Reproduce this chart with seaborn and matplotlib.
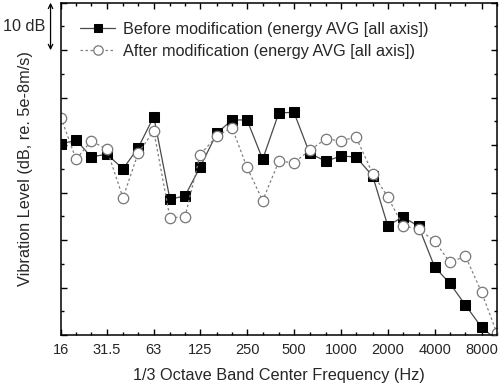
import numpy as np
import pandas as pd
import matplotlib
matplotlib.use("Agg")
import matplotlib.pyplot as plt
import matplotlib.ticker as mticker
import matplotlib.transforms as mtransforms
import seaborn as sns

# 1/3 octave band centres (Hz)
freqs = [16, 20, 25, 31.5, 40, 50, 63, 80, 100, 125, 160, 200, 250, 315, 400,
         500, 630, 800, 1000, 1250, 1600, 2000, 2500, 3150, 4000, 5000, 6300,
         8000, 10000]

# levels in dB (arbitrary offset, y axis has no numbers)
before = [40.2, 41.1, 37.5, 38.1, 35.0, 39.4, 46.0, 28.6, 29.3, 35.4, 42.5,
          45.3, 45.3, 37.0, 46.8, 46.9, 38.3, 36.6, 37.7, 37.5, 33.5, 23.0,
          24.9, 22.9, 14.3, 10.9, 6.3, 1.6, -1.0]
after = [45.8, 37.0, 40.9, 39.1, 28.9, 38.3, 43.0, 24.7, 24.9, 38.0, 41.9,
         43.7, 35.3, 28.3, 36.6, 36.3, 38.9, 41.3, 40.9, 41.7, 34.0, 29.1,
         23.0, 22.3, 19.8, 15.3, 16.6, 9.0, 0.5]

tick_freqs = [16, 31.5, 63, 125, 250, 500, 1000, 2000, 4000, 8000]
tick_labels = ["16", "31.5", "63", "125", "250", "500", "1000", "2000", "4000", "8000"]

label_before = "Before modification (energy AVG [all axis])"
label_after = "After modification (energy AVG [all axis])"

sns.set_style("ticks")
plt.rcParams['font.family'] = ['Liberation Sans', 'DejaVu Sans']

df = pd.DataFrame({"freq": freqs, "before": before, "after": after})

fig = plt.figure(figsize=(5, 3.87), dpi=100)
ax = fig.add_axes([0.122, 0.1344, 0.8714, 0.8586])
ax.set_xscale("log")

sns.lineplot(data=df, x="freq", y="before", ax=ax, sort=False,
             color="#4a4a4a", linewidth=0.9, marker="s", markersize=7,
             markerfacecolor="black", markeredgecolor="black",
             label=label_before)
sns.lineplot(data=df, x="freq", y="after", ax=ax, sort=False,
             color="#808080", linewidth=0.9, linestyle=(0, (2, 2)),
             marker="o", markersize=7.5, markerfacecolor="white",
             markeredgecolor="#777777", markeredgewidth=0.9,
             label=label_after)

ax.set_xlim(16, 10000)
ax.set_ylim(0, 70)

ax.xaxis.set_major_locator(mticker.FixedLocator(tick_freqs))
ax.xaxis.set_major_formatter(mticker.FixedFormatter(tick_labels))
ax.xaxis.set_minor_locator(mticker.FixedLocator(freqs))
ax.xaxis.set_minor_formatter(mticker.NullFormatter())
ax.yaxis.set_major_locator(mticker.MultipleLocator(10))
ax.yaxis.set_minor_locator(mticker.MultipleLocator(5))
ax.yaxis.set_major_formatter(mticker.NullFormatter())

ax.tick_params(which="both", direction="in", top=True, right=True,
               width=1, color="black", labelsize=10.5, pad=6)
ax.tick_params(which="major", length=4.5)
ax.tick_params(which="minor", length=2.2)
for s in ax.spines.values():
    s.set_linewidth(1.1)
    s.set_color("black")

ax.set_xlabel("1/3 Octave Band Center Frequency (Hz)", fontsize=11.7, labelpad=8)
ax.set_ylabel("Vibration Level (dB, re. 5e-8m/s)", fontsize=11.7, labelpad=14)

leg = ax.legend(loc="upper left", bbox_to_anchor=(0.044, 0.942), frameon=False,
                fontsize=11.7, handlelength=2.15, handletextpad=0.5,
                labelspacing=0.42, borderaxespad=0, borderpad=0,
                markerscale=0.9)

# 10 dB scale bar left of the axes
trans = mtransforms.blended_transform_factory(ax.transAxes, ax.transData)
ax.annotate("", xy=(-0.024, 70), xytext=(-0.024, 60), xycoords=trans,
            textcoords=trans, annotation_clip=False,
            arrowprops=dict(arrowstyle="<->", color="black", lw=0.9,
                            shrinkA=0, shrinkB=0, mutation_scale=8))
ax.text(-0.036, 65, "10 dB", transform=trans, ha="right", va="center",
        fontsize=11.7)

fig.savefig("out.png", dpi=100)
